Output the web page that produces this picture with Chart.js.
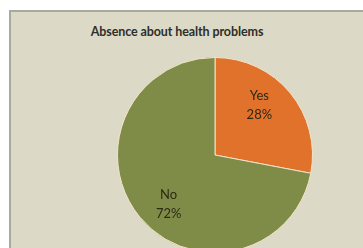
<!DOCTYPE html>
<html>
<head>
<meta charset="utf-8">
<script src="https://cdn.jsdelivr.net/npm/chart.js@4.4.0/dist/chart.umd.min.js"></script>
<style>
  html, body { margin: 0; padding: 0; background: #fff; width: 363px; height: 248px; overflow: hidden; }
  .frame {
    position: absolute; left: 9px; top: 10px; width: 380px; height: 300px;
    background: #dcd9c6; border-left: 2px solid #a9a9a2; border-top: 2px solid #a9a9a2;
    box-sizing: border-box;
  }
  .title {
    position: absolute; left: 77px; top: 24px; width: 200px; text-align: center;
    font: bold 12.5px Lato, "Open Sans", sans-serif; color: #2e2e2a; letter-spacing: -0.1px;
  }
  .wrap { position: absolute; left: 0; top: 0; width: 354px; height: 270px; }
</style>
</head>
<body>
<div class="frame"></div>
<div class="title">Absence about health problems</div>
<div class="wrap"><canvas id="pie-chart"></canvas></div>
<script>
const categories = ["Yes", "No"];
const values = [28, 72];
const sliceColors = ["#e0722b", "#7f8c48"];

// labels inside the slices: name on one line, percent under it
const sliceLabels = {
    id: "sliceLabels",
    afterDatasetsDraw(chart) {
        const ctx = chart.ctx;
        const meta = chart.getDatasetMeta(0);
        ctx.save();
        ctx.font = "13px Lato, 'Open Sans', sans-serif";
        ctx.fillStyle = "#2e2814";
        ctx.textAlign = "center";
        ctx.textBaseline = "middle";
        meta.data.forEach((arc, i) => {
            const p = arc.getProps(["x", "y", "startAngle", "endAngle", "outerRadius"], true);
            const mid = (p.startAngle + p.endAngle) / 2 - 0.14;
            const r = p.outerRadius * 0.69;
            const x = p.x + Math.cos(mid) * r;
            const y = p.y + Math.sin(mid) * r;
            ctx.fillText(categories[i], x - 1, y - 9.5);
            ctx.fillText(values[i] + "%", x - 1, y + 9.5);
        });
        ctx.restore();
    }
};

const pieCtx = document.getElementById("pie-chart").getContext("2d");

let healthPie = new Chart(pieCtx, {
    type: "pie",
    data: {
        labels: categories,
        datasets: [{
            data: values,
            backgroundColor: sliceColors,
            borderColor: "#f3e3c8",
            borderWidth: 1,
        }],
    },
    options: {
        responsive: true,
        maintainAspectRatio: false,
        animation: false,
        layout: {
            padding: { top: 57, bottom: 17, left: 117, right: 41 }
        },
        plugins: {
            legend: { display: false },
            tooltip: { enabled: false },
            title: { display: false },
        },
    },
    plugins: [sliceLabels],
});
</script>
</body>
</html>
